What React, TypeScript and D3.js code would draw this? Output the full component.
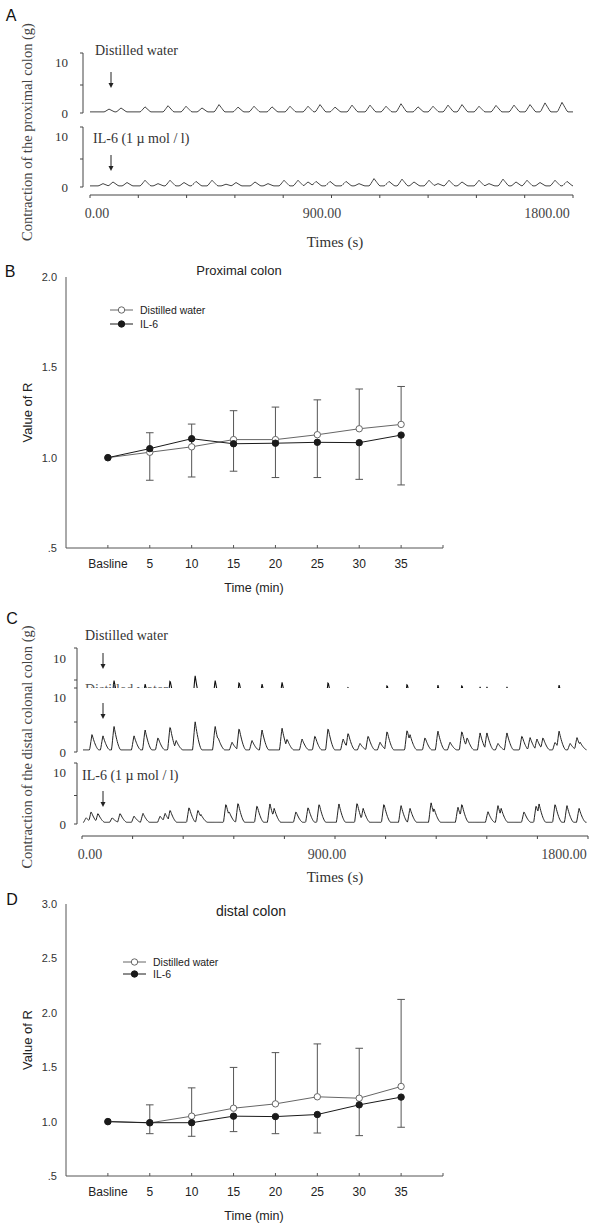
import React from "react";
import * as d3 from "d3";

const SANS = "'Liberation Sans', Arial, Helvetica, sans-serif";
const SERIF = "'Liberation Serif', 'Times New Roman', Times, serif";

// ---------------- Panel A: proximal colon traces (time in s, amplitude in g) ----------------
const timeAxisLabels = ["0.00", "900.00", "1800.00"];
const timeAxisValues = [0, 900, 1800];
const stripTickLabels = ["10", "0"];
const stripTickValues = [10, 0];

const proxWaterPeakT = [48, 96, 192, 284, 356, 420, 488, 564, 628, 700, 772, 844, 892, 952, 1020, 1092, 1156, 1216, 1284, 1344, 1404, 1460, 1528, 1596, 1668, 1732, 1792, 1860];
const proxWaterPeakH = [0.5, 0.7, 0.9, 1.1, 1.0, 0.7, 1.3, 0.85, 1.0, 0.9, 1.0, 1.0, 1.3, 0.85, 1.2, 1.2, 1.0, 1.45, 0.9, 1.0, 1.2, 1.3, 1.0, 1.15, 1.2, 1.3, 1.6, 1.7];
const proxIL6PeakT = [24, 64, 120, 192, 244, 292, 348, 396, 460, 516, 556, 632, 684, 748, 804, 844, 876, 932, 996, 1048, 1108, 1168, 1220, 1268, 1328, 1364, 1408, 1460, 1528, 1568, 1624, 1676, 1720, 1772, 1832, 1880];
const proxIL6PeakH = [0.4, 0.7, 0.6, 1.0, 0.4, 1.0, 0.6, 0.8, 1.0, 0.3, 0.6, 0.7, 0.4, 1.0, 1.0, 0.7, 0.8, 0.8, 0.8, 0.4, 1.3, 0.8, 1.2, 0.7, 1.0, 0.4, 1.0, 0.7, 1.0, 0.4, 1.2, 0.7, 1.0, 0.6, 1.0, 0.8];

// ---------------- Panel C: distal colon traces ----------------
const distWaterPeakT = [7.6, 49, 91, 167, 209, 258, 304, 327, 399, 475, 486, 539, 566, 615, 653, 729, 748, 805, 854, 904, 961, 980, 1025, 1056, 1101, 1128, 1204, 1215, 1272, 1321, 1367, 1412, 1432, 1481, 1507, 1549, 1583, 1640, 1671, 1697, 1720, 1766, 1781, 1823, 1849, 1861];
const distWaterPeakH = [2.6, 2.4, 4.0, 2.4, 3.4, 2.1, 4.0, 1.6, 4.8, 4.0, 2.1, 1.3, 3.7, 1.6, 3.4, 3.7, 1.85, 1.85, 2.4, 3.7, 1.85, 2.9, 1.1, 2.4, 1.3, 3.2, 3.4, 2.6, 2.1, 3.2, 1.3, 3.2, 2.1, 2.9, 2.9, 1.1, 2.9, 2.4, 2.1, 1.85, 2.1, 1.3, 3.2, 1.1, 2.1, 1.3];
const distIL6PeakT = [-15, 4, 30, 84, 114, 167, 201, 266, 285, 304, 376, 410, 421, 516, 528, 562, 634, 683, 699, 782, 828, 870, 945, 1014, 1037, 1116, 1181, 1215, 1295, 1306, 1397, 1412, 1511, 1549, 1561, 1648, 1694, 1705, 1766, 1811, 1857];
const distIL6PeakH = [0.8, 1.9, 1.6, 0.8, 1.6, 1.1, 1.6, 1.1, 1.6, 2.2, 2.7, 2.2, 1.4, 3.3, 1.9, 3.5, 3.0, 3.3, 2.5, 1.9, 2.7, 3.3, 3.3, 3.5, 2.5, 3.3, 3.0, 2.5, 3.5, 2.5, 2.7, 3.3, 1.9, 3.0, 2.5, 1.9, 3.0, 3.3, 3.3, 3.0, 2.5];

// ---------------- Panels B & D: value of R ----------------
const timeCategories = ["Basline", "5", "10", "15", "20", "25", "30", "35"];
const seriesNames = ["Distilled water", "IL-6"];

const proxWater = [1.0, 1.03, 1.06, 1.1, 1.1, 1.127, 1.16, 1.184];
const proxIL6 = [1.0, 1.05, 1.105, 1.077, 1.08, 1.085, 1.083, 1.125];
const proxWaterUpper = [null, 1.138, 1.186, 1.26, 1.28, 1.32, 1.38, 1.394];
const proxIL6Lower = [null, 0.875, 0.893, 0.925, 0.89, 0.89, 0.88, 0.849];
const proxYTicks = [0.5, 1.0, 1.5, 2.0];
const proxYTickLabels = [".5", "1.0", "1.5", "2.0"];

const distWater = [1.0, 0.988, 1.05, 1.123, 1.163, 1.228, 1.215, 1.323];
const distIL6 = [1.0, 0.99, 0.99, 1.05, 1.046, 1.065, 1.154, 1.225];
const distWaterUpper = [null, 1.154, 1.31, 1.498, 1.634, 1.714, 1.674, 2.123];
const distIL6Lower = [null, 0.889, 0.865, 0.908, 0.889, 0.895, 0.871, 0.948];
const distYTicks = [0.5, 1.0, 1.5, 2.0, 2.5, 3.0];
const distYTickLabels = [".5", "1.0", "1.5", "2.0", "2.5", "3.0"];

// ---------------- helpers ----------------
type Kernel = (d: number) => number;
const hump: Kernel = (d) => (d < -18 || d > 22 ? 0 : d <= 0 ? 1 + d / 18 : 1 - d / 22);
const spike: Kernel = (d) => {
  if (d < -9 || d > 26) return 0;
  if (d <= 0) return 1 + d / 9;
  return Math.pow(1 - d / 26, 1.6);
};

function waveform(peakT: number[], peakH: number[], base: number, t0: number, t1: number, step: number, kernel: Kernel) {
  const out: [number, number][] = [];
  for (let t = t0; t <= t1 + 1e-9; t += step) {
    let m = 0;
    for (let i = 0; i < peakT.length; i++) {
      const v = peakH[i] * kernel(t - peakT[i]);
      if (v > m) m = v;
    }
    out.push([t, base + m]);
  }
  return out;
}

function Arrow({ x, y1, y2 }: { x: number; y1: number; y2: number }) {
  return (
    <g>
      <line x1={x} x2={x} y1={y1} y2={y2 - 4} stroke="#222" strokeWidth={1} />
      <polygon points={`${x - 2.5},${y2 - 5} ${x + 2.5},${y2 - 5} ${x},${y2}`} fill="#222" />
    </g>
  );
}

function Bracket({ x, top, bottom, mid, showBottom = true }: { x: number; top: number; bottom: number; mid: number; showBottom?: boolean }) {
  return (
    <g stroke="#444" strokeWidth={1}>
      <line x1={x} x2={x} y1={top} y2={bottom} />
      <line x1={x - 3} x2={x} y1={top} y2={top} />
      <line x1={x - 3} x2={x} y1={mid} y2={mid} />
      {showBottom && <line x1={x - 3} x2={x} y1={bottom} y2={bottom} />}
    </g>
  );
}

function TimeAxis({ xScale, y, x0, x1, titleY }: { xScale: d3.ScaleLinear<number, number>; y: number; x0: number; x1: number; titleY: number }) {
  const ticks = d3.range(11).map((i) => x0 + (i * (x1 - x0)) / 10);
  return (
    <g>
      <line x1={x0} x2={x1} y1={y} y2={y} stroke="#444" strokeWidth={1} />
      {ticks.map((tx, i) => (
        <line key={i} x1={tx} x2={tx} y1={y} y2={y + 3} stroke="#444" strokeWidth={1} />
      ))}
      {timeAxisValues.map((v, i) => (
        <text key={v} x={xScale(v)} y={y + 18} textAnchor="middle" dominantBaseline="central" fontFamily={SERIF} fontSize={14} fill="#444">
          {timeAxisLabels[i]}
        </text>
      ))}
      <text x={335} y={titleY} textAnchor="middle" dominantBaseline="central" fontFamily={SERIF} fontSize={15} fill="#333">
        Times (s)
      </text>
    </g>
  );
}

function StripLabels({ yScale, x }: { yScale: d3.ScaleLinear<number, number>; x: number }) {
  return (
    <g>
      {stripTickValues.map((v, i) => (
        <text key={v} x={x} y={yScale(v) + (v === 10 ? 5 : 0)} textAnchor="end" dominantBaseline="central" fontFamily={SERIF} fontSize={13} fill="#333">
          {stripTickLabels[i]}
        </text>
      ))}
    </g>
  );
}

function RChart({
  yScale, axisY, topY, water, il6, upper, lower, yTicks, yTickLabels, title, titleX, titleY, titleSize, legendX, legendY, legendGap,
}: {
  yScale: d3.ScaleLinear<number, number>; axisY: number; topY: number; water: number[]; il6: number[]; upper: (number | null)[]; lower: (number | null)[];
  yTicks: number[]; yTickLabels: string[]; title: string; titleX: number; titleY: number; titleSize: number; legendX: number; legendY: number; legendGap: number;
}) {
  const x = d3.scaleLinear().domain([-1, 8]).range([66, 443]);
  const line = d3.line<number>().x((_, i) => x(i)).y((d) => yScale(d));
  const capW = 3.8;
  const r = 3.2;
  const grey = "#666";
  const dark = "#1a1a1a";
  return (
    <g fontFamily={SANS}>
      <line x1={66} x2={66} y1={topY} y2={axisY} stroke="#555" strokeWidth={1} />
      <line x1={66} x2={443} y1={axisY} y2={axisY} stroke="#555" strokeWidth={1} />
      {d3.range(0, 9).map((i) => (
        <line key={i} x1={x(i)} x2={x(i)} y1={axisY} y2={axisY - 3} stroke="#555" strokeWidth={1} />
      ))}
      {yTicks.map((v, i) => (
        <text key={v} x={57} y={yScale(v)} textAnchor="end" dominantBaseline="central" fontSize={11} fill="#333">
          {yTickLabels[i]}
        </text>
      ))}
      {timeCategories.map((c, i) => (
        <text key={c} x={x(i)} y={axisY + 16} textAnchor="middle" dominantBaseline="central" fontSize={12} fill="#222">
          {c}
        </text>
      ))}
      <text x={254} y={axisY + 40} textAnchor="middle" dominantBaseline="central" fontSize={12.5} fill="#222">
        Time (min)
      </text>
      <text transform={`translate(27,${(topY + axisY) / 2}) rotate(-90)`} textAnchor="middle" dominantBaseline="central" fontSize={13} fill="#222">
        Value of R
      </text>
      <text x={titleX} y={titleY} textAnchor="middle" dominantBaseline="central" fontSize={titleSize} fill="#222">
        {title}
      </text>
      <g stroke="#555" strokeWidth={1}>
        {upper.map((u, i) =>
          u == null ? null : (
            <g key={"u" + i}>
              <line x1={x(i)} x2={x(i)} y1={yScale(water[i])} y2={yScale(u)} />
              <line x1={x(i) - capW} x2={x(i) + capW} y1={yScale(u)} y2={yScale(u)} />
            </g>
          )
        )}
        {lower.map((l, i) =>
          l == null ? null : (
            <g key={"l" + i}>
              <line x1={x(i)} x2={x(i)} y1={yScale(il6[i])} y2={yScale(l)} />
              <line x1={x(i) - capW} x2={x(i) + capW} y1={yScale(l)} y2={yScale(l)} />
            </g>
          )
        )}
      </g>
      <path d={line(water) || ""} fill="none" stroke={grey} strokeWidth={1} />
      <path d={line(il6) || ""} fill="none" stroke={dark} strokeWidth={1} />
      {water.map((v, i) => (
        <circle key={"w" + i} cx={x(i)} cy={yScale(v)} r={r} fill="#fff" stroke={grey} strokeWidth={1} />
      ))}
      {il6.map((v, i) => (
        <circle key={"i" + i} cx={x(i)} cy={yScale(v)} r={r} fill={dark} stroke={dark} strokeWidth={1} />
      ))}
      <g>
        <line x1={legendX} x2={legendX + 23} y1={legendY} y2={legendY} stroke={grey} strokeWidth={1} />
        <circle cx={legendX + 11.5} cy={legendY} r={r} fill="#fff" stroke={grey} strokeWidth={1} />
        <text x={legendX + 30} y={legendY} dominantBaseline="central" fontSize={10.5} fill="#222">
          {seriesNames[0]}
        </text>
        <line x1={legendX} x2={legendX + 23} y1={legendY + legendGap} y2={legendY + legendGap} stroke={dark} strokeWidth={1} />
        <circle cx={legendX + 11.5} cy={legendY + legendGap} r={r} fill={dark} stroke={dark} strokeWidth={1} />
        <text x={legendX + 30} y={legendY + legendGap} dominantBaseline="central" fontSize={10.5} fill="#222">
          {seriesNames[1]}
        </text>
      </g>
    </g>
  );
}

export default function App() {
  const aX = d3.scaleLinear().domain([0, 1800]).range([97, 547]);
  const aY1 = d3.scaleLinear().domain([0, 10]).range([113, 57]);
  const aY2 = d3.scaleLinear().domain([0, 10]).range([187, 131]);
  const aT0 = aX.invert(90);
  const aT1 = aX.invert(573);
  const aTrace1 = waveform(proxWaterPeakT, proxWaterPeakH, 0.2, aT0, aT1, 4, hump);
  const aTrace2 = waveform(proxIL6PeakT, proxIL6PeakH, 0.2, aT0, aT1, 4, hump);
  const aLine1 = d3.line<[number, number]>().x((d) => aX(d[0])).y((d) => aY1(d[1]));
  const aLine2 = d3.line<[number, number]>().x((d) => aX(d[0])).y((d) => aY2(d[1]));

  const cX = d3.scaleLinear().domain([0, 1800]).range([90, 564]);
  const cY1 = d3.scaleLinear().domain([0, 10]).range([707, 653]);
  const cY2 = d3.scaleLinear().domain([0, 10]).range([752, 692]);
  const cY3 = d3.scaleLinear().domain([0, 10]).range([824, 767]);
  const cT0 = cX.invert(83);
  const cT1 = cX.invert(587);
  const cTrace2 = waveform(distWaterPeakT, distWaterPeakH, 0.35, cT0, cT1, 2, spike);
  const cTrace3 = waveform(distIL6PeakT, distIL6PeakH, 0.3, cT0, cT1, 2, spike);
  const cLine2 = d3.line<[number, number]>().x((d) => cX(d[0])).y((d) => cY2(d[1]));
  const cLine3 = d3.line<[number, number]>().x((d) => cX(d[0])).y((d) => cY3(d[1]));

  const bY = d3.scaleLinear().domain([0.5, 2.0]).range([548, 277]);
  const dY = d3.scaleLinear().domain([0.5, 3.0]).range([1176, 904]);

  return (
    <svg width={600} height={1228} style={{ position: "absolute", left: 0, top: 0, background: "#fff" }}>
      <rect x={0} y={0} width={600} height={1228} fill="#fff" />
      <defs>
        <clipPath id="cStrip1Clip">
          <rect x={78} y={640} width={520} height={48} />
        </clipPath>
      </defs>

      {/* ================= Panel A ================= */}
      <text x={11} y={15} textAnchor="middle" dominantBaseline="central" fontFamily={SANS} fontSize={16} fill="#111">A</text>
      <text transform="translate(27,132) rotate(-90)" textAnchor="middle" dominantBaseline="central" fontFamily={SERIF} fontSize={14.5} fill="#444">
        Contraction of  the proximal colon (g)
      </text>
      <Bracket x={83} top={53} bottom={113} mid={aY1(5)} />
      <StripLabels yScale={aY1} x={68} />
      <text x={95} y={50} dominantBaseline="central" fontFamily={SERIF} fontSize={14} fill="#333">Distilled water</text>
      <Arrow x={111} y1={72} y2={88} />
      <path d={aLine1(aTrace1) || ""} fill="none" stroke="#444" strokeWidth={1} />

      <Bracket x={83} top={127} bottom={187} mid={aY2(5)} />
      <StripLabels yScale={aY2} x={68} />
      <text x={93} y={138} dominantBaseline="central" fontFamily={SERIF} fontSize={14} fill="#333">IL-6 (1  µ mol / l)</text>
      <Arrow x={111} y1={155} y2={171} />
      <path d={aLine2(aTrace2) || ""} fill="none" stroke="#444" strokeWidth={1} />

      <TimeAxis xScale={aX} y={195} x0={90} x1={573} titleY={242} />

      {/* ================= Panel B ================= */}
      <text x={10} y={271} textAnchor="middle" dominantBaseline="central" fontFamily={SANS} fontSize={16} fill="#111">B</text>
      <RChart
        yScale={bY} axisY={548} topY={277} water={proxWater} il6={proxIL6} upper={proxWaterUpper} lower={proxIL6Lower}
        yTicks={proxYTicks} yTickLabels={proxYTickLabels} title="Proximal colon" titleX={239} titleY={270} titleSize={13}
        legendX={110} legendY={310} legendGap={14}
      />

      {/* ================= Panel C ================= */}
      <text x={12} y={618} textAnchor="middle" dominantBaseline="central" fontFamily={SANS} fontSize={16} fill="#111">C</text>
      <text transform="translate(27,747) rotate(-90)" textAnchor="middle" dominantBaseline="central" fontFamily={SERIF} fontSize={14.5} fill="#444">
        Contraction of  the distal colonal colon (g)
      </text>
      <Bracket x={77} top={648} bottom={688} mid={cY1(5)} showBottom={false} />
      <text x={66} y={cY1(10) + 5} textAnchor="end" dominantBaseline="central" fontFamily={SERIF} fontSize={13} fill="#333">10</text>
      <text x={85} y={635} dominantBaseline="central" fontFamily={SERIF} fontSize={14} fill="#333">Distilled water</text>
      <Arrow x={103} y1={653} y2={669} />
      <g clipPath="url(#cStrip1Clip)">
        <g transform="translate(0,-46)">
          <path d={cLine2(cTrace2) || ""} fill="none" stroke="#111" strokeWidth={1.1} />
        </g>
        <text x={85} y={694} fontFamily={SERIF} fontSize={14} fill="#555">Distilled water</text>
      </g>

      <Bracket x={77} top={688} bottom={752} mid={cY2(5)} />
      <StripLabels yScale={cY2} x={66} />
      <Arrow x={103} y1={703} y2={719} />
      <path d={cLine2(cTrace2) || ""} fill="none" stroke="#222" strokeWidth={1} />

      <Bracket x={77} top={763} bottom={824} mid={cY3(5)} />
      <StripLabels yScale={cY3} x={66} />
      <text x={82} y={775} dominantBaseline="central" fontFamily={SERIF} fontSize={14} fill="#333">IL-6 (1  µ mol / l)</text>
      <Arrow x={103} y1={791} y2={807} />
      <path d={cLine3(cTrace3) || ""} fill="none" stroke="#222" strokeWidth={1} />

      <TimeAxis xScale={cX} y={836} x0={82} x1={588} titleY={877} />

      {/* ================= Panel D ================= */}
      <text x={12} y={899} textAnchor="middle" dominantBaseline="central" fontFamily={SANS} fontSize={16} fill="#111">D</text>
      <RChart
        yScale={dY} axisY={1176} topY={904} water={distWater} il6={distIL6} upper={distWaterUpper} lower={distIL6Lower}
        yTicks={distYTicks} yTickLabels={distYTickLabels} title="distal colon" titleX={251} titleY={911} titleSize={14}
        legendX={123} legendY={962} legendGap={12}
      />
    </svg>
  );
}
